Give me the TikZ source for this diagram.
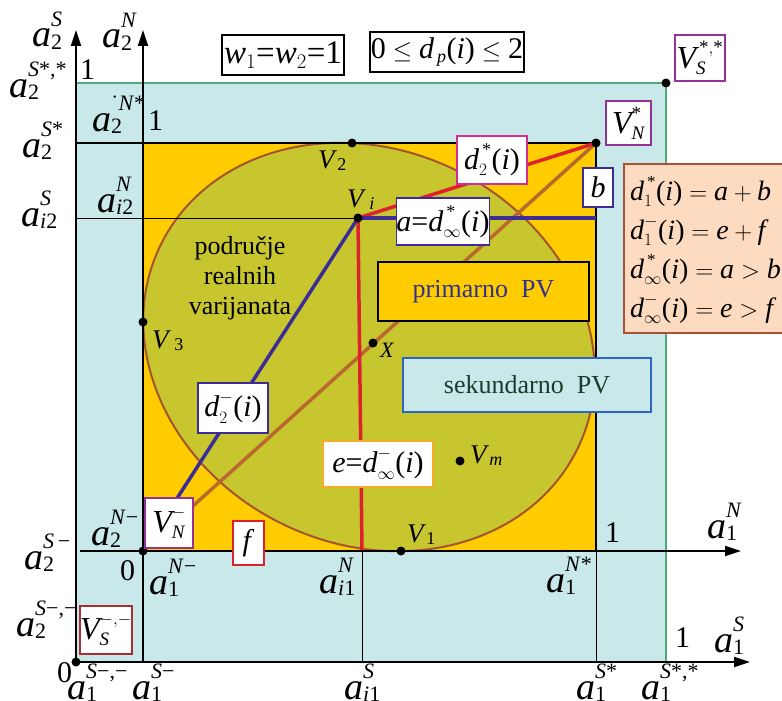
\documentclass[tikz,border=0pt]{standalone}
\usepackage{amsmath}
\usepackage{fontspec}
\setmainfont{Liberation Serif}
\usepackage{xcolor}
\usepackage{tikz}
\usetikzlibrary{arrows.meta}

\DeclareMathSizes{33}{33}{20}{14}
\DeclareMathSizes{32}{32}{19}{14}
\DeclareMathSizes{30}{30}{18}{13}
\DeclareMathSizes{28}{28}{17}{12}

\definecolor{cyanbg}{RGB}{200,232,234}
\definecolor{orng}{RGB}{255,204,0}
\definecolor{olv}{RGB}{200,198,46}
\definecolor{ellbd}{RGB}{165,85,45}
\definecolor{diagc}{RGB}{185,105,45}
\definecolor{redl}{RGB}{220,35,45}
\definecolor{bluel}{RGB}{60,45,150}
\definecolor{grnl}{RGB}{80,170,120}
\definecolor{purp}{RGB}{150,50,150}
\definecolor{magc}{RGB}{210,45,150}
\definecolor{peach}{RGB}{252,219,192}
\definecolor{peachbd}{RGB}{170,80,55}
\definecolor{sekbd}{RGB}{45,100,190}
\definecolor{sektx}{RGB}{25,60,45}
\definecolor{pritx}{RGB}{50,50,140}
\definecolor{orbd}{RGB}{245,170,40}
\definecolor{dred}{RGB}{170,45,50}

\newcommand{\iv}[1]{\textit{#1}}
\newcommand{\ofi}{\text{(}\textit{i}\text{)}}
\newcommand{\mn}{\char"2212\relax}
\newcommand{\scra}{\fontsize{22}{22}\selectfont}
\newcommand{\scrv}{\fontsize{18}{18}\selectfont}
\newcommand{\albl}[3]{\iv{#1}\rlap{\raisebox{0.55em}{\scra#3}}\raisebox{-0.07em}{\scra#2}}
\newcommand{\vlab}[1]{\iv{V}\raisebox{-0.1em}{\scrv#1}}

\begin{document}
\begin{tikzpicture}[x=1pt,y=-1pt,
    axis/.style={line width=2.2pt,-{Triangle[length=16pt,width=10pt]}},
    thinl/.style={line width=1pt},
    fatl/.style={line width=3.5pt},
    lbl/.style={font=\fontsize{38}{38}\selectfont, inner sep=0pt, anchor=base west},
    num/.style={font=\fontsize{30}{30}\selectfont, inner sep=0pt, anchor=base west},
    vlbl/.style={font=\fontsize{27}{27}\selectfont, inner sep=0pt, anchor=base west},
    wbox/.style={draw, fill=white, line width=1.8pt, inner sep=0pt},
    vbox/.style={wbox, font=\fontsize{32}{32}\selectfont},
    dbox/.style={wbox, font=\fontsize{30}{30}\selectfont},
    fml/.style={font=\fontsize{28}{28}\selectfont, inner sep=0pt, anchor=base west}]

    \useasboundingbox (0,0) rectangle (782,701);

    \coordinate (VSmm) at (76,662);
    \coordinate (VSss) at (666,83);
    \coordinate (VNm) at (143,551);
    \coordinate (VNs) at (596,143);
    \coordinate (Vi) at (358,218);
    \coordinate (Vbot) at (362,551);
    \coordinate (Vrt) at (596,218);
    \coordinate (V1) at (401,551);
    \coordinate (V2) at (352,143);
    \coordinate (V3) at (143,322);
    \coordinate (X) at (373,343);
    \coordinate (Vm) at (460,461);
    \coordinate (SyTip) at (76,30);
    \coordinate (SxTip) at (750,662);
    \coordinate (NyTip) at (143,30);
    \coordinate (NyEnd) at (143,662);
    \coordinate (NxTip) at (741,551);
    \coordinate (NxEnd) at (80,551);
    \coordinate (TopL) at (76,143);
    \coordinate (ai2L) at (76,218);
    \coordinate (ai1B) at (362,662);
    \coordinate (a1sB) at (596,662);
    \coordinate (a1nB) at (596,551);
    \coordinate (GrnL) at (76,83);
    \coordinate (GrnB) at (666,662);

    \fill[cyanbg] (GrnL) rectangle (GrnB);
    \draw[grnl, line width=1.3pt] (GrnL) -- (VSss) -- (GrnB);
    \fill[orng] (143,143) rectangle (596,551);
    \draw[ellbd, line width=2pt, fill=olv] (369,347) ellipse [x radius=232, y radius=197, rotate=-26];

    \draw[thinl] (ai2L) -- (Vi);
    \draw[thinl] (Vbot) -- (ai1B);
    \draw[thinl] (a1nB) -- (a1sB);
    \draw[line width=2.5pt] (TopL) -- (VNs) -- (a1nB);

    \draw[fatl, diagc] (VNm) -- (VNs);
    \draw[fatl, redl] (Vi) -- (VNs);
    \draw[fatl, redl] (Vi) -- (Vbot);
    \draw[fatl, bluel] (Vi) -- (VNm);
    \draw[fatl, bluel] (Vi) -- (Vrt);

    \draw[axis] (VSmm) -- (SyTip);
    \draw[axis] (VSmm) -- (SxTip);
    \draw[axis] (NyEnd) -- (NyTip);
    \draw[axis] (NxEnd) -- (NxTip);

    \foreach \p in {VSmm,VSss,VNm,VNs,Vi,V1,V2,V3,X,Vm}
        \fill (\p) circle (4.5);

    \node[wbox, draw=black, minimum width=122pt, minimum height=40pt, font=\fontsize{33}{33}\selectfont]
        (wts) at (283,55) {$\iv{w}_{1}\text{=}\iv{w}_{2}\text{=}\text{1}$};
    \node[dbox, draw=black, minimum width=154pt, minimum height=40pt] (dpr) at (447,52)
        {$\text{0}\le \iv{d}_{\,\iv{p}}\ofi\le \text{2}$};
    \node[vbox, draw=purp, minimum width=50pt, minimum height=46pt] (vsssbox) at (700,58)
        {$\iv{V}^{\,\text{*},\text{*}}_{\iv{S}}$};
    \node[vbox, draw=purp, minimum width=45pt, minimum height=44pt] (vnsbox) at (628.5,123)
        {$\iv{V}^{\text{*}}_{\iv{N}}$};
    \node[dbox, draw=bluel, minimum width=30pt, minimum height=39pt] (bbox) at (598,187.5) {\iv{b}};
    \node[dbox, draw=magc, minimum width=70pt, minimum height=48pt] (d2sbox) at (492,160)
        {$\iv{d}^{\,\text{*}}_{2}\ofi$};
    \node[dbox, draw=bluel, minimum width=92pt, minimum height=47pt] (ainfbox) at (443,221.5)
        {$\iv{a}\text{=}\iv{d}^{\,\text{*}}_{\infty}\ofi$};
    \node[draw=black, fill=orng, line width=1.8pt, minimum width=211pt, minimum height=59pt,
        font=\fontsize{26}{26}\selectfont, text=pritx] (prim) at (483.5,291.5) {primarno~~PV};
    \node[draw=sekbd, fill=cyanbg, line width=1.8pt, minimum width=248pt, minimum height=54pt,
        font=\fontsize{26}{26}\selectfont, text=sektx] (sek) at (527,385) {sekundarno~~PV};
    \node[dbox, draw=bluel, minimum width=70pt, minimum height=50pt] (d2mbox) at (233,408)
        {$\iv{d}^{-}_{2}\ofi$};
    \node[dbox, draw=orbd, minimum width=110pt, minimum height=46pt] (einfbox) at (378,464)
        {$\iv{e}\text{=}\iv{d}^{-}_{\infty}\ofi$};
    \node[vbox, draw=purp, minimum width=48pt, minimum height=50pt] (vnmbox) at (169,523)
        {$\iv{V}^{-}_{\iv{N}}$};
    \node[dbox, draw=redl, minimum width=31pt, minimum height=44pt] (fbox) at (248.5,543) {\iv{f}};
    \node[vbox, draw=dred, minimum width=48pt, minimum height=48pt] (vsmmbox) at (106,630)
        {$\iv{V}^{-,-}_{\iv{S}}$};

    \draw[peachbd, fill=peach, line width=2pt] (624,164) rectangle (790,333);
    \node[fml] (f1) at (630,200) {$\iv{d}^{\,\text{*}}_{1}\ofi = \iv{a}+\iv{b}$};
    \node[fml] (f2) at (630,239) {$\iv{d}^{-}_{1}\ofi = \iv{e}+\iv{f}$};
    \node[fml] (f3) at (630,278) {$\iv{d}^{\,\text{*}}_{\infty}\ofi = \iv{a}>\iv{b}$};
    \node[fml] (f4) at (630,317) {$\iv{d}^{-}_{\infty}\ofi = \iv{e}>\iv{f}$};

    \node[align=center, font=\fontsize{26}{30}\selectfont] (podr) at (240,278)
        {područje\\realnih\\varijanata};

    \node[lbl] (a2S) at (32,47) {\albl{a}{2}{\iv{S}}};
    \node[lbl] (a2N) at (102,48) {\albl{a}{2}{\iv{N}}};
    \node[lbl] (a2Sss) at (9,97) {\albl{a}{2}{\iv{S}*,*}};
    \node[lbl] (a2Ns) at (92,131) {\albl{a}{2}{\char"02D9\iv{N}*}};
    \node[lbl] (a2Ss) at (22,157) {\albl{a}{2}{\iv{S}*}};
    \node[lbl] (ai2N) at (97,212) {\albl{a}{\iv{i}2}{\iv{N}}};
    \node[lbl] (ai2S) at (21,226) {\albl{a}{\iv{i}2}{\iv{S}}};
    \node[lbl] (a2Nm) at (91,545) {\albl{a}{2}{\iv{N}\mn}};
    \node[lbl] (a2Sm) at (24,569) {\albl{a}{2}{\iv{S}\,\mn}};
    \node[lbl] (a1Nm) at (149,594) {\albl{a}{1}{\iv{N}\mn}};
    \node[lbl] (a2Smm) at (16,636) {\albl{a}{2}{\iv{S}\mn,\mn}};
    \node[lbl] (a1Smm) at (67,699) {\albl{a}{1}{\iv{S}\mn,\mn}};
    \node[lbl] (a1Sm) at (132,699) {\albl{a}{1}{\iv{S}\mn}};
    \node[lbl] (ai1N) at (319,593) {\albl{a}{\iv{i}1}{\iv{N}}};
    \node[lbl] (a1Ns) at (546,592) {\albl{a}{1}{\iv{N}*}};
    \node[lbl] (ai1S) at (344,699) {\albl{a}{\iv{i}1}{\iv{S}}};
    \node[lbl] (a1Ss) at (576,699) {\albl{a}{1}{\iv{S}*}};
    \node[lbl] (a1Sss) at (641,699) {\albl{a}{1}{\iv{S}*,*}};
    \node[lbl] (a1N) at (707,538) {\albl{a}{1}{\iv{N}}};
    \node[lbl] (a1S) at (714,652) {\albl{a}{1}{\iv{S}}};

    \node[num] (oneSy) at (80,80) {1};
    \node[num] (oneNy) at (148,130) {1};
    \node[num] (zeroN) at (120,580) {0};
    \node[num] (zeroS) at (57,682) {0};
    \node[num] (oneNx) at (605,542) {1};
    \node[num] (oneSx) at (675,647) {1};

    \node[vlbl] (lV2) at (318,168) {\vlab{2}};
    \node[vlbl] (lVi) at (347,207) {\vlab{\,\iv{i}}};
    \node[vlbl] (lV3) at (152,348) {\vlab{\,3}};
    \node[vlbl] (lV1) at (407,542) {\vlab{1}};
    \node[vlbl] (lVm) at (470,463) {\vlab{\iv{m}}};
    \node[vlbl, font=\fontsize{22}{22}\selectfont] (lX) at (380,357) {\iv{X}};
\end{tikzpicture}
\end{document}
